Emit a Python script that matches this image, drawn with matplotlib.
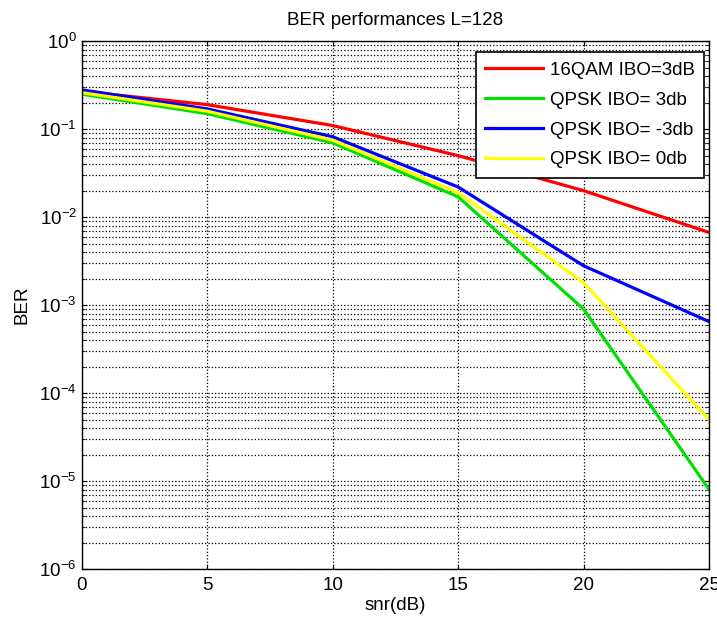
import numpy as np
import matplotlib
matplotlib.use("Agg")
import matplotlib.pyplot as plt
from matplotlib.ticker import LogLocator, NullFormatter

plt.rcParams['font.family'] = ['Liberation Sans', 'DejaVu Sans']

snr = [0, 5, 10, 15, 20, 25]
ber16qam = [0.27, 0.19, 0.11, 0.05, 0.02, 0.0067]
berQpsk3 = [0.25, 0.15, 0.07, 0.017, 9e-4, 8e-6]
berQpskM3 = [0.28, 0.17, 0.082, 0.022, 2.8e-3, 6.5e-4]
berQpsk0 = [0.26, 0.16, 0.075, 0.019, 1.8e-3, 5e-5]

labels = ["16QAM IBO=3dB", "QPSK IBO= 3db", "QPSK IBO= -3db", "QPSK IBO= 0db"]
colors = ["#ff0000", "#00e000", "#0000ff", "#ffff00"]

fig = plt.figure(figsize=(7.17, 6.24), dpi=100)
ax = fig.add_axes([0.114, 0.088, 0.875, 0.846])

for ys, lab, c in zip([ber16qam, berQpsk3, berQpskM3, berQpsk0], labels, colors):
    ax.semilogy(snr, ys, color=c, lw=2.3, label=lab)

ax.set_xlim(0, 25)
ax.set_ylim(1e-6, 1)
ax.set_xticks([0, 5, 10, 15, 20, 25])
ax.yaxis.set_major_locator(LogLocator(base=10, numticks=10))
ax.yaxis.set_minor_locator(LogLocator(base=10, subs=np.arange(2, 10), numticks=100))
ax.yaxis.set_minor_formatter(NullFormatter())

ax.grid(True, which='major', color='black', linestyle=':', linewidth=0.9)
ax.grid(True, which='minor', axis='y', color='black', linestyle=':', linewidth=0.9)
ax.tick_params(which='both', direction='in', top=True, right=True, labelsize=13.5)
ax.tick_params(axis='x', pad=6)
for s in ax.spines.values():
    s.set_linewidth(1.0)

ax.set_title("BER performances L=128", fontsize=13.5, pad=12)
ax.set_xlabel("snr(dB)", fontsize=13.5, labelpad=2)
ax.set_ylabel("BER", fontsize=13.5, labelpad=6)

leg = ax.legend(loc='upper right', bbox_to_anchor=(0.992, 0.979), borderaxespad=0,
                fontsize=13.5, fancybox=False, framealpha=1, edgecolor='black',
                handlelength=3.1, handletextpad=0.35, labelspacing=0.68, borderpad=0.5)
leg.get_frame().set_linewidth(1.2)

fig.savefig("out.png", dpi=100)
